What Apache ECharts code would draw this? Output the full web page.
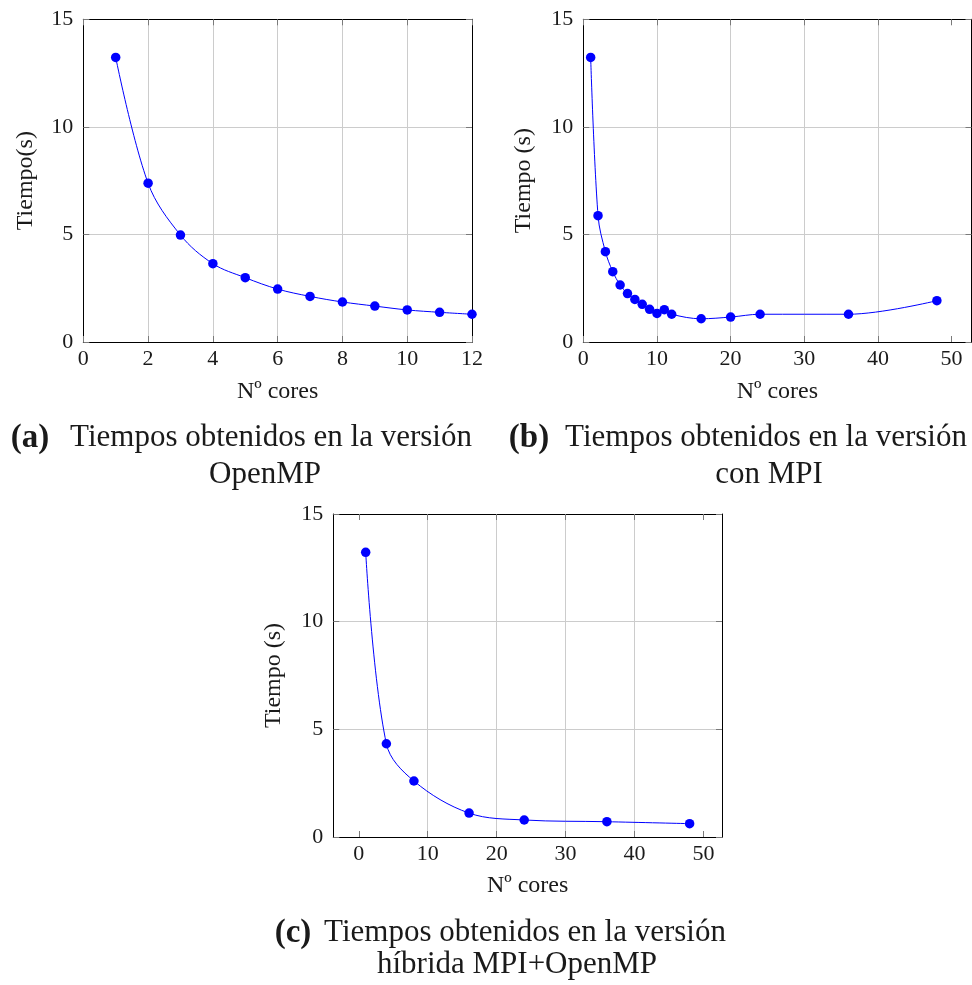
<!DOCTYPE html>
<html>
<head>
<meta charset="utf-8">
<title>Tiempos de ejecución</title>
<script src="https://cdn.jsdelivr.net/npm/echarts@6/dist/echarts.min.js"></script>
<style>
  html, body { margin: 0; padding: 0; background: #ffffff; }
  #chart { width: 972px; height: 985px; }
</style>
</head>
<body>
<div id="chart"></div>
<script>
// Tiempos medidos (segundos) frente al número de cores
const coresOpenMP = [1, 2, 3, 4, 5, 6, 7, 8, 9, 10, 11, 12];
const tiemposOpenMP = [13.23, 7.38, 4.97, 3.64, 2.99, 2.46, 2.12, 1.86, 1.67, 1.49, 1.38, 1.29];

const coresMPI = [1, 2, 3, 4, 5, 6, 7, 8, 9, 10, 11, 12, 16, 20, 24, 36, 48];
const tiemposMPI = [13.23, 5.87, 4.20, 3.27, 2.65, 2.25, 1.98, 1.75, 1.52, 1.33, 1.50, 1.29, 1.08, 1.16, 1.29, 1.29, 1.92];

const coresHibrida = [1, 4, 8, 16, 24, 36, 48];
const tiemposHibrida = [13.22, 4.33, 2.60, 1.11, 0.79, 0.71, 0.62];

// Marcas de los ejes
const ticksY = [0, 5, 10, 15];
const ticksXOpenMP = [0, 2, 4, 6, 8, 10, 12];
const ticksXMPI = [0, 10, 20, 30, 40, 50];

const FONT = 'Liberation Serif';
const TEXT = '#1a1a1a';
const BLUE = '#0000ff';
const GRID = '#cccccc';
const TICK = '#7a7a7a';

const chart = echarts.init(document.getElementById('chart'), null, { renderer: 'canvas' });

const grids = [];
const xAxes = [];
const yAxes = [];
const series = [];

function pairs(xs, ys) {
  return xs.map((x, i) => [x, ys[i]]);
}

// One framed panel: bottom/left axes carry labels and grid, top/right mirror the ticks
function addPanel(rect, xMin, xMax, xTicks, xName, yName, xNameGap, yNameGap, xs, ys) {
  const gi = grids.length;
  grids.push(Object.assign({ containLabel: false, show: false }, rect));

  const tickStyle = { show: true, inside: true, length: 6, lineStyle: { color: TICK, width: 1 }, customValues: xTicks };
  const frameLine = { show: true, onZero: false, lineStyle: { color: '#000', width: 1 } };

  xAxes.push({
    type: 'value', gridIndex: gi, position: 'bottom', min: xMin, max: xMax,
    axisLine: frameLine,
    axisTick: tickStyle,
    axisLabel: { customValues: xTicks, margin: 6, color: TEXT, fontFamily: FONT, fontSize: 22 },
    splitLine: { show: true, showMinLine: false, showMaxLine: false, lineStyle: { color: GRID, width: 1 } },
    name: xName, nameLocation: 'middle', nameGap: xNameGap,
    nameTextStyle: { color: TEXT, fontFamily: FONT, fontSize: 24 }
  });
  xAxes.push({
    type: 'value', gridIndex: gi, position: 'top', min: xMin, max: xMax,
    axisLine: frameLine,
    axisTick: tickStyle,
    axisLabel: { show: false, customValues: xTicks },
    splitLine: { show: false }
  });

  const yTick = Object.assign({}, tickStyle, { customValues: ticksY });
  yAxes.push({
    type: 'value', gridIndex: gi, position: 'left', min: 0, max: 15,
    axisLine: frameLine,
    axisTick: yTick,
    axisLabel: { customValues: ticksY, margin: 10, color: TEXT, fontFamily: FONT, fontSize: 22 },
    splitLine: { show: true, showMinLine: false, showMaxLine: false, lineStyle: { color: GRID, width: 1 } },
    name: yName, nameLocation: 'middle', nameGap: yNameGap, nameRotate: 90,
    nameTextStyle: { color: TEXT, fontFamily: FONT, fontSize: 24 }
  });
  yAxes.push({
    type: 'value', gridIndex: gi, position: 'right', min: 0, max: 15,
    axisLine: frameLine,
    axisTick: yTick,
    axisLabel: { show: false, customValues: ticksY },
    splitLine: { show: false }
  });

  series.push({
    type: 'line',
    xAxisIndex: gi * 2,
    yAxisIndex: gi * 2,
    data: pairs(xs, ys),
    smooth: 0.35,
    symbol: 'circle',
    symbolSize: 9.5,
    showSymbol: true,
    clip: false,
    lineStyle: { color: BLUE, width: 1 },
    itemStyle: { color: BLUE },
    emphasis: { disabled: true },
    z: 5
  });
}

addPanel({ left: 83.3, top: 19.3, width: 388.7, height: 322.7 }, 0, 12, ticksXOpenMP,
  'Nº cores', 'Tiempo(s)', 38, 46, coresOpenMP, tiemposOpenMP);
addPanel({ left: 583.3, top: 19.3, width: 388.2, height: 322.7 }, 0, 52.7, ticksXMPI,
  'Nº cores', 'Tiempo (s)', 38, 48, coresMPI, tiemposMPI);
addPanel({ left: 333.3, top: 514, width: 388.7, height: 323 }, -3.7, 52.7, ticksXMPI,
  'Nº cores', 'Tiempo (s)', 37, 48, coresHibrida, tiemposHibrida);

// Subfigure captions
const capFont = { fontFamily: FONT, fontSize: 31, fill: TEXT };
function capText(text, x, y, align, bold) {
  return {
    type: 'text', x: x, y: y, silent: true,
    style: Object.assign({}, capFont, {
      text: text, align: align, verticalAlign: 'middle',
      fontWeight: bold ? 'bold' : 'normal',
      fontSize: bold ? 33 : 31
    })
  };
}

const graphics = [
  capText('(a)', 30, 438, 'center', true),
  capText('Tiempos obtenidos en la versión', 271, 438, 'center', false),
  capText('OpenMP', 265, 475, 'center', false),

  capText('(b)', 529, 438, 'center', true),
  capText('Tiempos obtenidos en la versión', 766, 438, 'center', false),
  capText('con MPI', 769, 475, 'center', false),

  capText('(c)', 293, 933, 'center', true),
  capText('Tiempos obtenidos en la versión', 525, 933, 'center', false),
  capText('híbrida MPI+OpenMP', 517, 965, 'center', false)
];

chart.setOption({
  backgroundColor: '#ffffff',
  animation: false,
  grid: grids,
  xAxis: xAxes,
  yAxis: yAxes,
  series: series,
  graphic: graphics
});
</script>
</body>
</html>
